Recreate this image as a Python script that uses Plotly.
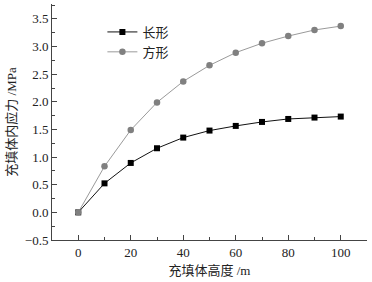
import plotly.graph_objects as go

heights = [0, 10, 20, 30, 40, 50, 60, 70, 80, 90, 100]
long_vals = [0, 0.525, 0.894, 1.16, 1.353, 1.48, 1.564, 1.636, 1.69, 1.715, 1.733]
square_vals = [0, 0.833, 1.49, 1.99, 2.37, 2.66, 2.89, 3.06, 3.19, 3.30, 3.37]
names = ["长形", "方形"]
x_title = "充填体高度 /m"
y_title = "充填体内应力 /MPa"

font_family = "Liberation Serif, Noto Sans CJK SC, serif"

fig = go.Figure()
fig.add_trace(go.Scatter(
    x=heights, y=long_vals, name=names[0], mode="lines+markers",
    line=dict(color="#111111", width=1),
    marker=dict(symbol="square", size=6, color="#000000"),
))
fig.add_trace(go.Scatter(
    x=heights, y=square_vals, name=names[1], mode="lines+markers",
    line=dict(color="#9a9a9a", width=1),
    marker=dict(symbol="circle", size=6.5, color="#808080"),
))

axis_common = dict(
    showgrid=False, zeroline=False, showline=True, linecolor="#444444", linewidth=1,
    ticks="inside", ticklen=5, tickcolor="#444444", automargin=False,
    tickfont=dict(family=font_family, size=13, color="#222222"),
)

fig.update_layout(
    width=372, height=282,
    margin=dict(l=52, r=5, t=4, b=42),
    paper_bgcolor="white", plot_bgcolor="white",
    font=dict(family=font_family, size=13, color="#222222"),
    showlegend=True,
    legend=dict(x=0.16, y=0.945, xanchor="left", yanchor="top",
                bgcolor="rgba(0,0,0,0)", font=dict(size=13),
                tracegroupgap=0, itemwidth=30),
    xaxis=dict(range=[-10, 110], tickvals=[0, 20, 40, 60, 80, 100],
               minor=dict(ticks="inside", ticklen=3, dtick=10, tick0=0, tickcolor="#444444"),
               title=dict(text=x_title, standoff=7, font=dict(size=13)),
               **axis_common),
    yaxis=dict(range=[-0.5, 3.77], tickvals=[-0.5, 0, 0.5, 1.0, 1.5, 2.0, 2.5, 3.0, 3.5],
               ticktext=["−0.5", "0.0", "0.5", "1.0", "1.5", "2.0", "2.5", "3.0", "3.5"],
               minor=dict(ticks="inside", ticklen=3, dtick=0.25, tick0=0, tickcolor="#444444"),
               title=dict(text=y_title, standoff=5, font=dict(size=13)),
               **axis_common),
)

fig.write_html("out.html", config={"displayModeBar": False},
               post_script="document.body.style.margin='0';")
